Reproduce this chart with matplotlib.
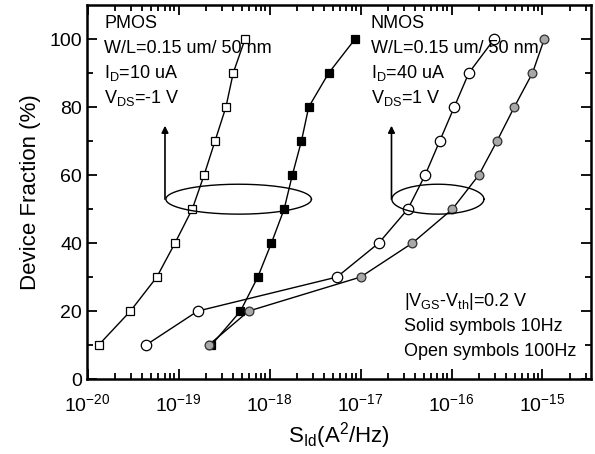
import numpy as np
import matplotlib
matplotlib.use("Agg")
import matplotlib.pyplot as plt

plt.rcParams['font.family'] = ['Liberation Sans', 'DejaVu Sans']
plt.rcParams['mathtext.default'] = 'regular'

fraction = [10, 20, 30, 40, 50, 60, 70, 80, 90, 100]

# log10 of S_Id
pmos_100hz = [-19.88, -19.53, -19.24, -19.04, -18.85, -18.72, -18.60, -18.48, -18.40, -18.27]
pmos_10hz = [-18.64, -18.32, -18.13, -17.98, -17.84, -17.75, -17.65, -17.57, -17.35, -17.06]
nmos_100hz = [-19.36, -18.79, -17.26, -16.80, -16.48, -16.29, -16.13, -15.97, -15.81, -15.53]
nmos_10hz = [-18.67, -18.23, -17.00, -16.43, -15.99, -15.70, -15.50, -15.31, -15.11, -14.98]

fig = plt.figure(figsize=(5.95, 4.54), dpi=100)
ax = fig.add_axes([0.146, 0.165, 0.847, 0.824])

ax.plot(10**np.array(pmos_100hz), fraction, 'k-', lw=1, marker='s', ms=5.8,
        mfc='white', mec='black', mew=0.9)
ax.plot(10**np.array(pmos_10hz), fraction, 'k-', lw=1, marker='s', ms=5.8,
        mfc='black', mec='black', mew=0.9)
ax.plot(10**np.array(nmos_100hz), fraction, 'k-', lw=1, marker='o', ms=7.5,
        mfc='white', mec='black', mew=0.9)
ax.plot(10**np.array(nmos_10hz), fraction, 'k-', lw=1, marker='o', ms=6.3,
        mfc='#a8a8a8', mec='#303030', mew=0.9)

# ellipses drawn in log space
t = np.linspace(0, 2*np.pi, 200)
for cx, a, arrow_x in [(-18.34, 0.80, -19.15), (-16.15, 0.506, -16.66)]:
    ax.plot(10**(cx + a*np.cos(t)), 52.9 + 4.4*np.sin(t), 'k-', lw=1)
    ax.annotate('', xy=(10**arrow_x, 74.5), xytext=(10**arrow_x, 52.9),
                arrowprops=dict(arrowstyle='-|>', color='black', lw=1.2,
                                mutation_scale=10, shrinkA=0, shrinkB=0))

ax.set_xscale('log')
ax.set_xlim(0.98e-20, 3.4e-15)
ax.set_ylim(0, 110)
ax.set_yticks([0, 20, 40, 60, 80, 100])
ax.set_yticks(range(10, 110, 20), minor=True)
ax.set_xticks([1e-20, 1e-19, 1e-18, 1e-17, 1e-16, 1e-15])

ax.tick_params(which='both', direction='in', top=True, right=True, width=1.3)
ax.tick_params(which='major', length=7, labelsize=14)
ax.tick_params(which='minor', length=4)
ax.tick_params(axis='x', which='major', pad=10)
for s in ax.spines.values():
    s.set_linewidth(1.8)

ax.set_ylabel('Device Fraction (%)', fontsize=16, labelpad=6)
ax.set_xlabel(r'S$_{Id}$(A$^2$/Hz)', fontsize=16, labelpad=4)

pmos_text = ['PMOS', 'W/L=0.15 um/ 50 nm', r'I$_D$=10 uA', r'V$_{DS}$=-1 V']
nmos_text = ['NMOS', 'W/L=0.15 um/ 50 nm', r'I$_D$=40 uA', r'V$_{DS}$=1 V']
note_text = [r'|V$_{GS}$-V$_{th}$|=0.2 V', 'Solid symbols 10Hz', 'Open symbols 100Hz']

def place(lines, xpix, ytop):
    for i, s in enumerate(lines):
        y = ytop + i*24.5
        fig.text(xpix/595, 1 - y/454, s, fontsize=13, va='center', ha='left')

place(pmos_text, 104, 24)
place(nmos_text, 371, 24)
place(note_text, 404, 302)

fig.savefig('out.png', dpi=100)
